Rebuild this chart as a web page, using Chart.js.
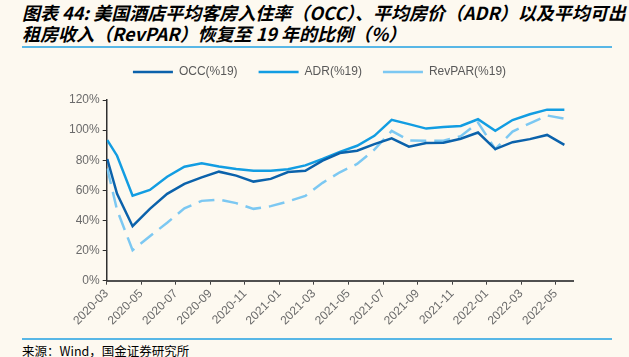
<!DOCTYPE html>
<html>
<head>
<meta charset="utf-8">
<script src="https://cdn.jsdelivr.net/npm/chart.js@4.4.1/dist/chart.umd.min.js"></script>
<style>
  html, body { margin:0; padding:0; background:#FDF9F0; }
  body { width:629px; height:357px; position:relative; overflow:hidden; }
  #title { position:absolute; left:22px; top:2px; width:605px; font-family:"Noto Sans CJK SC","Liberation Sans",sans-serif; font-weight:bold; font-style:italic; font-size:18px; line-height:21px; color:#000; white-space:nowrap; }
  #topline { position:absolute; left:22px; top:46px; width:590px; height:2px; background:#58B7E6; }
  #botline { position:absolute; left:22px; top:338px; width:590px; height:2px; background:#58B7E6; }
  #source { position:absolute; left:22px; top:343px; font-family:"Noto Sans CJK SC","Liberation Sans",sans-serif; font-size:12.5px; line-height:15px; color:#000; }
  #wrap { position:absolute; left:0; top:45px; width:629px; height:285px; }
</style>
</head>
<body>
<div id="title">图表 44: 美国酒店平均客房入住率（OCC）、平均房价（ADR）以及平均可出<br>租房收入（RevPAR）恢复至 19 年的比例（%）</div>
<div id="topline"></div>
<div id="wrap"><canvas id="c"></canvas></div>
<div id="botline"></div>
<div id="source">来源：Wind，国金证券研究所</div>
<script>
// Observation dates (first two are early/late March 2020, then monthly mid-month values)
const dates = ['2020-03-02','2020-03-19','2020-04-16','2020-05-16','2020-06-16','2020-07-16','2020-08-16','2020-09-16','2020-10-16','2020-11-16','2020-12-16','2021-01-16','2021-02-16','2021-03-16','2021-04-16','2021-05-16','2021-06-16','2021-07-16','2021-08-16','2021-09-16','2021-10-16','2021-11-16','2021-12-16','2022-01-16','2022-02-16','2022-03-16','2022-04-16','2022-05-16'];
const occ = [80.8, 57.7, 36.2, 47.7, 57.7, 64.3, 68.6, 72.4, 69.8, 65.8, 67.6, 72.2, 73.0, 79.7, 84.8, 86.3, 90.7, 94.5, 89.0, 91.4, 91.6, 94.3, 98.4, 87.4, 92.0, 94.0, 96.8, 90.2];
const adr = [93.4, 83.0, 56.5, 60.3, 69.0, 75.7, 77.9, 75.8, 74.2, 73.0, 73.0, 74.0, 76.6, 80.8, 85.6, 89.6, 96.2, 106.8, 104.0, 101.0, 102.0, 102.8, 107.2, 99.5, 106.7, 110.5, 113.6, 113.6];
const revpar = [74.5, 47.0, 20.2, 29.5, 38.5, 48.0, 53.0, 53.9, 51.5, 47.7, 49.5, 52.6, 56.3, 65.0, 72.0, 77.5, 87.0, 99.5, 93.2, 92.9, 93.0, 96.0, 105.0, 87.4, 99.0, 104.5, 109.7, 107.6];
const tickLabels = ['2020-03','2020-05','2020-07','2020-09','2020-11','2021-01','2021-03','2021-05','2021-07','2021-09','2021-11','2022-01','2022-03','2022-05'];
const seriesNames = ['OCC(%19)','ADR(%19)','RevPAR(%19)'];

function monthPos(s){
  const [y,m,d] = s.split('-').map(Number);
  return (y-2020)*12 + (m-3) + (d-1)/30;
}
function pts(arr){ return arr.map((v,i)=>({x:monthPos(dates[i]), y:v})); }

const legendGap = {
  id:'legendGap',
  beforeInit(chart){
    const orig = chart.legend.fit;
    chart.legend.fit = function(){ orig.call(this); this.height += 12; };
  }
};

const axisFont = {family:'"Liberation Sans", Arial, sans-serif', size:12};
new Chart(document.getElementById('c'), {
  type:'line',
  data:{ datasets:[
    {label:seriesNames[0], data:pts(occ), borderColor:'#0B62AB', backgroundColor:'#0B62AB', borderWidth:2.5, pointRadius:0, tension:0, fill:false},
    {label:seriesNames[1], data:pts(adr), borderColor:'#129DE2', backgroundColor:'#129DE2', borderWidth:2.5, pointRadius:0, tension:0, fill:false},
    {label:seriesNames[2], data:pts(revpar), borderColor:'#7CC8F2', backgroundColor:'#7CC8F2', borderWidth:2.5, borderDash:[16,8], pointRadius:0, tension:0, fill:false}
  ]},
  plugins:[legendGap],
  options:{
    responsive:true, maintainAspectRatio:false, animation:false,
    layout:{padding:{left:66, right:56, top:0, bottom:0}},
    plugins:{
      tooltip:{enabled:false},
      legend:{display:true, position:'top',
        labels:{usePointStyle:true, pointStyle:'line', pointStyleWidth:40, boxWidth:40, boxHeight:12, padding:21, color:'#595959', font:axisFont}
      }
    },
    scales:{
      x:{type:'linear', min:0, max:27,
        grid:{display:true, drawOnChartArea:false, drawTicks:true, tickLength:4, color:'#404040', lineWidth:1},
        border:{display:true, color:'#505050', width:2},
        ticks:{stepSize:2, includeBounds:false, autoSkip:false, maxRotation:45, minRotation:45, color:'#6b6b6b', font:axisFont, padding:2,
          callback:(v)=> (v%2===0 && tickLabels[v/2]) ? tickLabels[v/2] : ''}
      },
      y:{min:0, max:120,
        grid:{display:true, drawOnChartArea:false, drawTicks:true, tickLength:4, color:'#303030', lineWidth:1},
        border:{display:true, color:'#303030', width:1.5},
        ticks:{stepSize:20, color:'#6b6b6b', font:axisFont, padding:3, callback:(v)=>v+'%'}
      }
    }
  }
});
</script>
</body>
</html>
